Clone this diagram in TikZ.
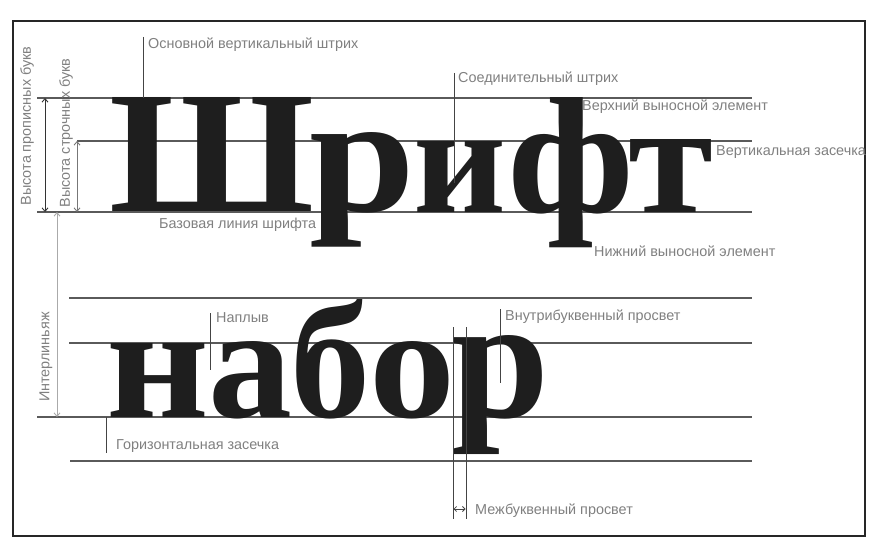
\documentclass[tikz,border=0pt]{standalone}
\usepackage{fontspec}
\usepackage{graphicx}
\setmainfont{Liberation Sans}
\newfontfamily\bigserif{Liberation Serif}
\usetikzlibrary{arrows.meta}
\definecolor{guidegray}{HTML}{5A5A5A}
\definecolor{leadergray}{HTML}{444444}
\definecolor{labelgray}{HTML}{808080}
\definecolor{inkblack}{HTML}{1E1E1E}
\definecolor{dimdark}{HTML}{333333}
\definecolor{dimmid}{HTML}{777777}
\definecolor{dimlight}{HTML}{AAAAAA}
\begin{document}
\begin{tikzpicture}[x=1pt,y=-1pt,
  guide/.style={draw=guidegray, line width=1.1pt},
  leader/.style={draw=leadergray, line width=0.9pt},
  lbl/.style={text=labelgray, font=\fontsize{14.4}{14.4}\selectfont, inner sep=0pt, anchor=base west},
  vlbl/.style={text=labelgray, font=\fontsize{14.4}{14.4}\selectfont, inner sep=0pt, rotate=90},
  glyph/.style={text=inkblack, inner sep=0pt, anchor=base, font=\bigserif\bfseries\fontsize{172}{172}\selectfont},
  dimarrow/.style={{Straight Barb[length=3.5pt,width=6pt]}-{Straight Barb[length=3.5pt,width=6pt]}, line width=0.9pt},
  smallarrow/.style={{Straight Barb[length=2.5pt,width=5pt]}-{Straight Barb[length=2.5pt,width=5pt]}, line width=0.8pt, draw=leadergray}
]
\useasboundingbox (0,0) rectangle (891,556);
\fill[white] (0,0) rectangle (891,556);
\draw[line width=1.4pt, draw=black!85] (13,21) rectangle (865,536);

% guide lines, upper group
\coordinate (capL) at (37,98);   \coordinate (capR) at (752,98);
\coordinate (xhL) at (77,141);   \coordinate (xhR) at (752,141);
\coordinate (baseL) at (37,212); \coordinate (baseR) at (752,212);
\draw[guide] (capL) -- (capR);
\draw[guide] (xhL) -- (xhR);
\draw[guide] (baseL) -- (baseR);
% guide lines, lower group
\coordinate (ascL) at (69,298);  \coordinate (ascR) at (752,298);
\coordinate (xh2L) at (69,343);  \coordinate (xh2R) at (752,343);
\coordinate (base2L) at (37,417);\coordinate (base2R) at (752,417);
\coordinate (descL) at (70,461); \coordinate (descR) at (752,461);
\draw[guide] (ascL) -- (ascR);
\draw[guide] (xh2L) -- (xh2R);
\draw[guide] (base2L) -- (base2R);
\draw[guide] (descL) -- (descR);

% big letters, upper word
\node[glyph] (g1) at (212.5,212) {\resizebox{205pt}{114pt}{Ш}};
\node[glyph] (g2) at (362,212) {\resizebox{106pt}{79pt}{р}};
\node[glyph] (g3) at (460,212) {\resizebox{93pt}{71pt}{и}};
\node[glyph] (g4) at (571,212) {\resizebox{127pt}{115pt}{ф}};
\node[glyph] (g5) at (671,212) {\resizebox{85pt}{73pt}{т}};
% big letters, lower word
\node[glyph] (h1) at (157.5,417) {\resizebox{103pt}{74pt}{н}};
\node[glyph] (h2) at (250,417) {\resizebox{84pt}{76pt}{а}};
\node[glyph] (h3) at (330,417) {\resizebox{80pt}{118pt}{б}};
\node[glyph] (h4) at (412,417) {\resizebox{86pt}{76pt}{о}};
\node[glyph] (h5) at (500,417) {\resizebox{98pt}{82pt}{р}};

% dimension arrows
\coordinate (a1t) at (45,98);  \coordinate (a1b) at (45,212);
\coordinate (a2t) at (77,141); \coordinate (a2b) at (77,212);
\coordinate (a3t) at (57,212); \coordinate (a3b) at (57,417);
\draw[dimarrow, draw=dimdark] (a1t) -- (a1b);
\draw[dimarrow, draw=dimmid] (a2t) -- (a2b);
\draw[dimarrow, draw=dimlight] (a3t) -- (a3b);
\node[vlbl] (v1) at (27,126) {Высота прописных букв};
\node[vlbl] (v2) at (66,133) {Высота строчных букв};
\node[vlbl] (v3) at (46,357) {Интерлиньяж};

% labels with leaders
\coordinate (l1t) at (143,37);  \coordinate (l1b) at (143,98);
\draw[leader] (l1t) -- (l1b);
\node[lbl] (t1) at (148,49) {Основной вертикальный штрих};

\coordinate (l2t) at (454,73);  \coordinate (l2b) at (454,183);
\draw[leader] (l2t) -- (l2b);
\node[lbl] (t2) at (458,83) {Соединительный штрих};

\node[lbl] (t3) at (582,111) {Верхний выносной элемент};
\node[lbl] (t4) at (716,156) {Вертикальная засечка};
\node[lbl] (t5) at (594,256) {Нижний выносной элемент};
\node[lbl] (t6) at (159,228) {Базовая линия шрифта};

\coordinate (l7t) at (210,313); \coordinate (l7b) at (210,370);
\draw[leader] (l7t) -- (l7b);
\node[lbl] (t7) at (216,322) {Наплыв};

\coordinate (l8t) at (106,417); \coordinate (l8b) at (106,453);
\draw[leader] (l8t) -- (l8b);
\node[lbl] (t8) at (116,449) {Горизонтальная засечка};

\coordinate (l9t) at (500,309); \coordinate (l9b) at (500,383);
\draw[leader] (l9t) -- (l9b);
\node[lbl] (t9) at (505,320) {Внутрибуквенный просвет};

\coordinate (m1t) at (453,327); \coordinate (m1b) at (453,519);
\coordinate (m2t) at (466,327); \coordinate (m2b) at (466,519);
\draw[leader] (m1t) -- (m1b);
\draw[leader] (m2t) -- (m2b);
\coordinate (ma) at (453.5,509); \coordinate (mb) at (465.5,509);
\draw[smallarrow] (ma) -- (mb);
\node[lbl] (t10) at (475,514) {Межбуквенный просвет};
\end{tikzpicture}
\end{document}
